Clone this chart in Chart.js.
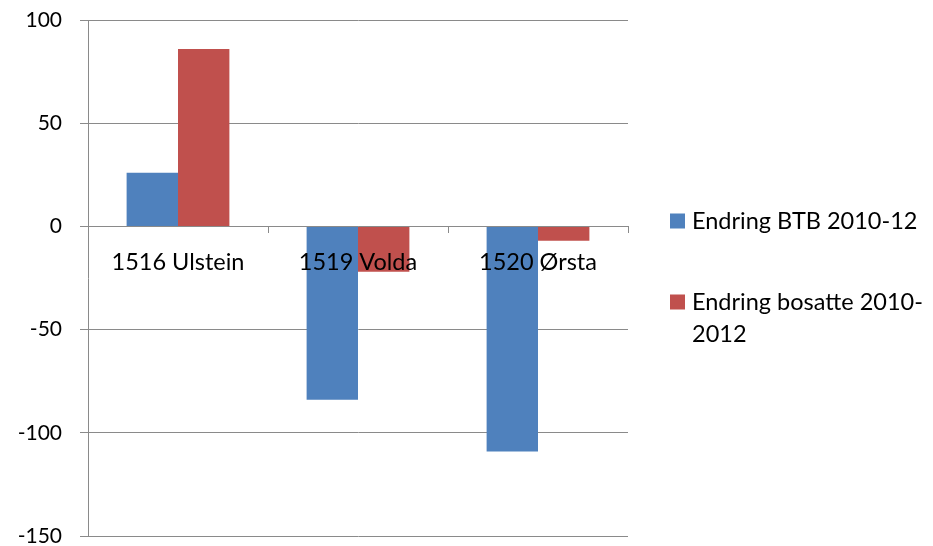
<!DOCTYPE html>
<html><head><meta charset="utf-8">
<script src="https://cdn.jsdelivr.net/npm/chart.js@4"></script>
<style>html,body{margin:0;padding:0;background:#fff}#wrap{width:933px;height:546px}</style>
</head><body><div id="wrap"><canvas id="c" width="933" height="546"></canvas></div>
<script>
const categories = ['1516 Ulstein', '1519 Volda', '1520 Ørsta'];
const seriesNames = ['Endring BTB 2010-12', 'Endring bosatte 2010-2012'];
const btbValues = [26, -84, -109];
const bosatteValues = [86, -22, -7];
const legendLines = [['Endring BTB 2010-12'], ['Endring bosatte 2010-', '2012']];
const yMin = -150, yMax = 100, yStep = 50;

const FONT = 'Lato';
const FS = 23.5;
const FSY = 21;
const colors = ['#4F81BD', '#C0504D'];
const gridColor = '#8a8a8a';

const sideLegend = {
  id: 'sideLegend',
  afterDraw(chart) {
    const ctx = chart.ctx;
    ctx.save();
    ctx.font = FS + 'px ' + FONT;
    ctx.textBaseline = 'middle';
    ctx.textAlign = 'left';
    const starts = [221, 302];
    const lineGap = 32;
    chart.data.datasets.forEach((ds, i) => {
      const y0 = starts[i];
      ctx.fillStyle = ds.backgroundColor;
      ctx.fillRect(670, y0 - 7.5, 15, 15);
      ctx.fillStyle = '#000';
      legendLines[i].forEach((t, k) => ctx.fillText(t, 692, y0 + k * lineGap));
    });
    ctx.restore();
  }
};

new Chart(document.getElementById('c'), {
  type: 'bar',
  data: {
    labels: categories,
    datasets: [
      { label: seriesNames[0], data: btbValues, backgroundColor: colors[0], borderWidth: 0 },
      { label: seriesNames[1], data: bosatteValues, backgroundColor: colors[1], borderWidth: 0 }
    ]
  },
  options: {
    responsive: false,
    animation: false,
    devicePixelRatio: 1,
    categoryPercentage: 0.571,
    barPercentage: 1.0,
    layout: { padding: { left: 0, top: 20, right: 305, bottom: 10 } },
    plugins: { legend: { display: false }, tooltip: { enabled: false } },
    scales: {
      x: {
        type: 'category',
        position: { y: 0 },
        offset: true,
        grid: { offset: true, drawOnChartArea: false, drawTicks: true, tickLength: 6, color: gridColor },
        border: { display: true, color: gridColor, width: 1 },
        ticks: { font: { family: FONT, size: FS }, color: '#000', padding: 16, maxRotation: 0, z: 1 }
      },
      y: {
        min: yMin, max: yMax,
        afterFit: s => { s.width = 88; s.paddingTop = 0; s.paddingBottom = 0; },
        ticks: { stepSize: yStep, font: { family: FONT, size: FSY }, color: '#000', padding: 18 },
        grid: { color: gridColor, tickLength: 8, lineWidth: 1 },
        border: { display: true, color: gridColor, width: 1 }
      }
    }
  },
  plugins: [sideLegend]
});
</script>
</body></html>
